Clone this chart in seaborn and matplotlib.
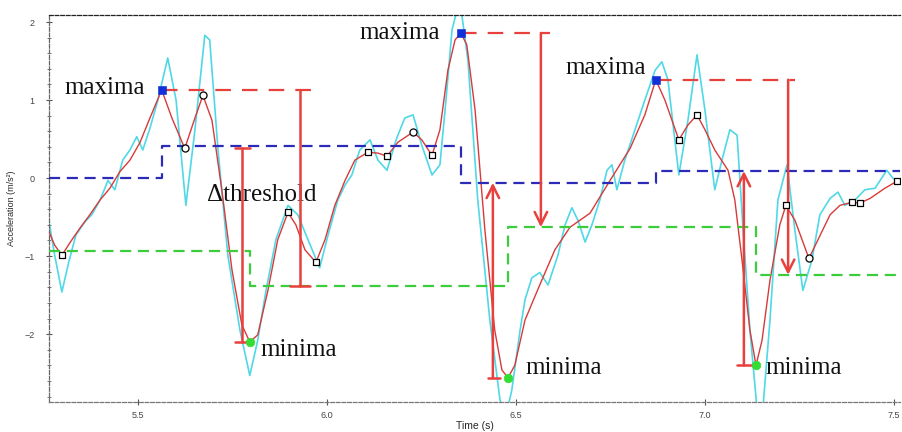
import matplotlib
matplotlib.use("Agg")
import matplotlib.pyplot as plt
import seaborn as sns
import pandas as pd

# smoothed acceleration signal (red)
smooth_t = [5.265, 5.280, 5.299, 5.320, 5.347, 5.373, 5.400, 5.426, 5.452, 5.479,
            5.505, 5.532, 5.563, 5.590, 5.624, 5.651, 5.672, 5.696, 5.722, 5.749,
            5.775, 5.796, 5.817, 5.844, 5.870, 5.897, 5.918, 5.942, 5.971, 5.995,
            6.021, 6.048, 6.074, 6.108, 6.135, 6.159, 6.188, 6.228, 6.251, 6.278,
            6.299, 6.320, 6.339, 6.354, 6.370, 6.392, 6.418, 6.444, 6.463, 6.479,
            6.497, 6.524, 6.563, 6.603, 6.643, 6.696, 6.749, 6.802, 6.841, 6.870,
            6.894, 6.931, 6.955, 6.979, 7.000, 7.026, 7.061, 7.079, 7.098, 7.119,
            7.135, 7.151, 7.172, 7.198, 7.214, 7.238, 7.275, 7.299, 7.331, 7.357,
            7.389, 7.410, 7.437, 7.476, 7.508]
smooth_acc = [-0.69, -0.86, -0.99, -0.83, -0.64, -0.47, -0.28, -0.13, 0.08, 0.23,
              0.45, 0.77, 1.13, 0.77, 0.38, 0.77, 1.06, 0.74, -0.15, -1.18,
              -1.88, -2.10, -2.01, -1.44, -0.79, -0.44, -0.60, -0.92, -1.08, -0.79,
              -0.35, -0.03, 0.23, 0.33, 0.32, 0.28, 0.46, 0.59, 0.49, 0.29,
              0.62, 1.38, 1.77, 1.86, 1.71, 0.87, -0.67, -1.95, -2.46, -2.56,
              -2.40, -1.82, -1.37, -0.92, -0.63, -0.45, -0.03, 0.38, 0.81, 1.26,
              1.00, 0.49, 0.68, 0.81, 0.62, 0.36, 0.10, -0.28, -1.05, -1.95,
              -2.40, -2.08, -1.31, -0.60, -0.35, -0.54, -1.03, -0.79, -0.47, -0.35,
              -0.31, -0.32, -0.26, -0.13, -0.04]

# raw acceleration signal (cyan)
raw_t = [5.265, 5.280, 5.299, 5.317, 5.336, 5.360, 5.378, 5.400, 5.421, 5.439,
         5.460, 5.479, 5.497, 5.513, 5.532, 5.553, 5.579, 5.601, 5.627, 5.651,
         5.677, 5.690, 5.712, 5.738, 5.770, 5.796, 5.817, 5.839, 5.865, 5.897,
         5.923, 5.950, 5.981, 6.003, 6.029, 6.048, 6.066, 6.087, 6.114, 6.135,
         6.159, 6.183, 6.206, 6.228, 6.251, 6.278, 6.299, 6.315, 6.331, 6.344,
         6.357, 6.373, 6.399, 6.431, 6.458, 6.474, 6.489, 6.511, 6.524, 6.542,
         6.563, 6.585, 6.611, 6.630, 6.648, 6.664, 6.683, 6.701, 6.722, 6.741,
         6.754, 6.767, 6.788, 6.815, 6.841, 6.868, 6.886, 6.902, 6.931, 6.955,
         6.979, 7.000, 7.026, 7.045, 7.066, 7.085, 7.101, 7.119, 7.138, 7.153,
         7.172, 7.193, 7.217, 7.238, 7.259, 7.283, 7.304, 7.331, 7.352, 7.370,
         7.397, 7.423, 7.450, 7.481, 7.497, 7.516]
raw_acc = [-0.56, -0.99, -1.46, -1.08, -0.73, -0.56, -0.47, -0.28, -0.03, -0.15,
           0.23, 0.36, 0.53, 0.36, 0.64, 1.00, 1.54, 1.00, -0.35, 0.62,
           1.83, 1.77, 0.36, -0.99, -1.95, -2.53, -2.08, -1.44, -0.79, -0.35,
           -0.47, -0.79, -1.15, -0.73, -0.28, -0.09, 0.04, 0.36, 0.49, 0.23,
           0.10, 0.49, 0.77, 0.81, 0.42, 0.04, 0.17, 1.00, 1.90, 2.15,
           2.09, 1.51, -0.28, -1.82, -2.85, -3.04, -2.72, -1.95, -1.56, -1.28,
           -1.21, -1.37, -0.99, -0.60, -0.38, -0.54, -0.82, -0.60, -0.28, 0.10,
           0.17, -0.15, 0.23, 0.62, 1.00, 1.38, 1.49, 1.26, 0.04, 0.74,
           1.58, 0.87, -0.15, 0.23, 0.62, 0.55, -0.67, -1.95, -2.97, -2.97,
           -1.82, -0.28, 0.17, -0.67, -1.44, -1.05, -0.47, -0.26, -0.18, -0.35,
           -0.28, -0.15, -0.13, 0.10, 0.00, -0.06]

# detected extrema
max_t = [5.563, 6.354, 6.870]
max_acc = [1.13, 1.86, 1.26]
min_t = [5.796, 6.479, 7.135]
min_acc = [-2.10, -2.56, -2.40]
sq_t = [5.299, 5.897, 5.971, 6.108, 6.159, 6.278, 6.931, 6.979, 7.214, 7.389, 7.410, 7.508]
sq_acc = [-0.99, -0.44, -1.08, 0.33, 0.28, 0.29, 0.49, 0.81, -0.35, -0.31, -0.32, -0.04]
circ_t = [5.624, 5.672, 6.228, 7.275]
circ_acc = [0.38, 1.06, 0.59, -1.03]

# adaptive thresholds (step functions)
upper_t = [5.265, 5.563, 6.354, 6.870, 7.516]
upper_thr = [0.0, 0.41, -0.06, 0.09, 0.09]
lower_t = [5.265, 5.796, 6.479, 7.135, 7.516]
lower_thr = [-0.94, -1.38, -0.63, -1.24, -1.24]

sns.set_style("white")
plt.rcParams["font.family"] = ["Liberation Sans", "DejaVu Sans"]

fig = plt.figure(figsize=(9.03, 4.32), dpi=100)
ax = fig.add_axes([0.0543, 0.0694, 0.9424, 0.8959])

raw = pd.DataFrame({"t": raw_t, "acc": raw_acc})
smooth = pd.DataFrame({"t": smooth_t, "acc": smooth_acc})
up = pd.DataFrame({"t": upper_t, "thr": upper_thr})
low = pd.DataFrame({"t": lower_t, "thr": lower_thr})

sns.lineplot(data=raw, x="t", y="acc", color="#4fd8e6", lw=1.2, ax=ax, zorder=2)
sns.lineplot(data=smooth, x="t", y="acc", color="#d83a3a", lw=1.0, ax=ax, zorder=3)

sns.lineplot(data=up, x="t", y="thr", color="#2b2bb8", lw=1.6, ax=ax,
             drawstyle="steps-post", dashes=False, linestyle=(0, (5, 3)), zorder=4)
sns.lineplot(data=low, x="t", y="thr", color="#3ccc3c", lw=1.6, ax=ax,
             drawstyle="steps-post", dashes=False, linestyle=(0, (5, 3)), zorder=4)

red = "#e8403c"
# dashed lines from maxima
ends = [5.960, 6.590, 7.238]
for mt, ma, e in zip(max_t, max_acc, ends):
    ax.plot([mt, e], [ma, ma], color=red, lw=1.6, ls=(0, (7, 5)), zorder=4)

# delta threshold bars with caps
ax.plot([5.775, 5.775], [upper_thr[1] - 0.03, min_acc[0]], color=red, lw=1.8, zorder=5)
ax.plot([5.757, 5.796], [upper_thr[1] - 0.03] * 2, color=red, lw=1.8, zorder=5)
ax.plot([5.757, 5.796], [min_acc[0]] * 2, color=red, lw=1.8, zorder=5)
ax.plot([5.929, 5.929], [max_acc[0], lower_thr[1]], color=red, lw=1.8, zorder=5)
ax.plot([5.902, 5.955], [lower_thr[1]] * 2, color=red, lw=1.8, zorder=5)

# arrows
arrows = [(6.566, max_acc[1], lower_thr[2]), (6.439, min_acc[1], upper_thr[2]),
          (7.220, max_acc[2], lower_thr[3]), (7.103, min_acc[2], upper_thr[3])]
for x, y0, y1 in arrows:
    ax.annotate("", xy=(x, y1), xytext=(x, y0),
                arrowprops=dict(arrowstyle="->,head_length=0.5,head_width=0.25",
                                color=red, lw=1.8, mutation_scale=18, shrinkA=0, shrinkB=0),
                zorder=5)
for x0, x1, y in [(6.426, 6.458, min_acc[1]), (7.085, 7.138, min_acc[2])]:
    ax.plot([x0, x1], [y, y], color=red, lw=1.8, zorder=5)

sns.scatterplot(x=sq_t, y=sq_acc, marker="s", s=24, color="white",
                edgecolor="black", linewidth=0.9, ax=ax, zorder=6)
sns.scatterplot(x=circ_t, y=circ_acc, marker="o", s=26, color="white",
                edgecolor="black", linewidth=0.9, ax=ax, zorder=6)
sns.scatterplot(x=max_t, y=max_acc, marker="s", s=30, color="#1030d8",
                edgecolor="#1030d8", ax=ax, zorder=7)
sns.scatterplot(x=min_t, y=min_acc, marker="o", s=38, color="#33dd33",
                edgecolor="#33dd33", ax=ax, zorder=7)

serif = dict(family=["Liberation Serif", "DejaVu Serif"], fontsize=18, color="#111111")
ax.text(5.307, 1.15, "maxima", va="center", ha="left", **serif)
ax.text(6.087, 1.86, "maxima", va="center", ha="left", **serif)
ax.text(6.630, 1.41, "maxima", va="center", ha="left", **serif)
ax.text(5.683, -0.22, "Δthreshold", va="center", ha="left", **serif)
ax.text(5.823, -2.20, "minima", va="center", ha="left", **serif)
ax.text(6.524, -2.44, "minima", va="center", ha="left", **serif)
ax.text(7.159, -2.44, "minima", va="center", ha="left", **serif)

ax.set_xlim(5.265, 7.516)
ax.set_ylim(-2.87, 2.09)
ax.set_xticks([5.5, 6.0, 6.5, 7.0, 7.5])
ax.set_xticklabels(["5.5", "6.0", "6.5", "7.0", "7.5"])
ax.set_yticks([-2, -1, 0, 1, 2])
ax.set_yticks([v / 5 for v in range(-14, 11)], minor=True)
ax.tick_params(axis="both", which="major", labelsize=6.5, labelcolor="#444444",
               direction="inout", length=5, width=0.8, color="#555555", pad=8,
               left=True, bottom=True)
ax.tick_params(axis="x", which="major", pad=4)
ax.tick_params(axis="y", which="minor", direction="inout", length=3, width=0.7,
               color="#777777", left=True)
ax.set_xlabel("Time (s)", fontsize=7.5, labelpad=1)
ax.set_ylabel("Acceleration (m/s²)", fontsize=6.5, labelpad=6)

for side in ["left", "bottom", "top"]:
    ax.spines[side].set_visible(True)
    ax.spines[side].set_linestyle((0, (3, 1.5)))
    ax.spines[side].set_linewidth(0.9)
ax.spines["top"].set_color("#222222")
ax.spines["left"].set_color("#666666")
ax.spines["bottom"].set_color("#777777")
ax.spines["right"].set_visible(False)

fig.savefig("out.png", dpi=100)
